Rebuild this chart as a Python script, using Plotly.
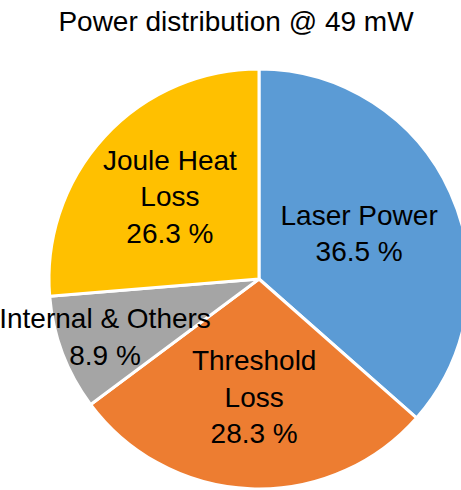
import plotly.graph_objects as go

categories = ["Laser Power", "Threshold<br>Loss", "Internal & Others", "Joule Heat<br>Loss"]
values = [36.5, 28.3, 8.9, 26.3]
colors = ["#5B9BD5", "#ED7D31", "#A5A5A5", "#FFC000"]
title_text = "Power distribution @ 49 mW"

fig = go.Figure(go.Pie(
    labels=categories,
    values=values,
    sort=False,
    direction="clockwise",
    rotation=0,
    marker=dict(colors=colors, line=dict(color="white", width=3)),
    texttemplate="%{label}<br>%{value:.1f} %",
    textposition="inside",
    insidetextorientation="horizontal",
    textfont=dict(family="Liberation Sans, Arial", size=28, color="black"),
    showlegend=False,
    hole=0,
))

fig.update_layout(
    width=470, height=490,
    margin=dict(l=48, r=0, t=69, b=1, autoexpand=False),
    paper_bgcolor="white",
    title=dict(text=title_text, x=236 / 470, xanchor="center", xref="container",
               y=1 - 21 / 490, yanchor="middle", yref="container",
               font=dict(family="Liberation Sans, Arial", size=28, color="black")),
    uniformtext=dict(minsize=28, mode="show"),
)

fig.write_html("out.html", config={"displayModeBar": False},
               post_script="document.body.style.margin='0';document.body.style.overflow='hidden';")
